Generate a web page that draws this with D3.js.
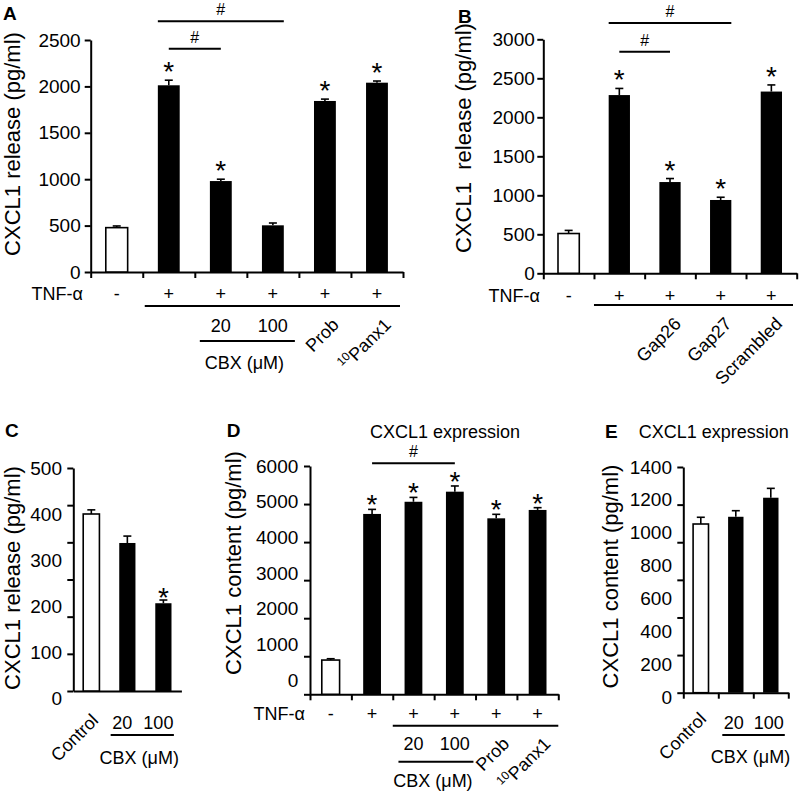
<!DOCTYPE html>
<html><head><meta charset="utf-8">
<script src="https://cdn.jsdelivr.net/npm/d3@7"></script>
<style>
body{margin:0;background:#fff;}
svg text{font-family:"Liberation Sans", Arial, Helvetica, sans-serif; fill:#000;}
</style></head><body>
<svg id="fig" width="800" height="792"></svg>
<script>
// ---------- Panel A : CXCL1 release ----------
const aCategories = ["Control","TNF-α","TNF-α+CBX 20","TNF-α+CBX 100","TNF-α+Prob","TNF-α+10Panx1"];
const aValues = [478, 2012, 980, 503, 1843, 2040];
const aErrors = [18, 55, 20, 25, 20, 18];
const aStars  = [0, 1, 1, 0, 1, 1];
const aTicks  = [0, 500, 1000, 1500, 2000, 2500];
const aTNF    = ["-", "+", "+", "+", "+", "+"];
const aDose   = ["", "", "20", "100", "", ""];
const aRotated = ["", "", "", "", "Prob", "10Panx1"];
const aRotSup  = [0, 0, 0, 0, 0, 2];
const aSig = [[1, 3, "edge"], [1, 2, "center"]];

// ---------- Panel B : CXCL1 release, peptides ----------
const bCategories = ["Control","TNF-α","TNF-α+Gap26","TNF-α+Gap27","TNF-α+Scrambled"];
const bValues = [510, 2285, 1170, 940, 2330];
const bErrors = [40, 85, 45, 35, 85];
const bStars  = [0, 1, 1, 1, 1];
const bTicks  = [0, 500, 1000, 1500, 2000, 2500, 3000];
const bTNF    = ["-", "+", "+", "+", "+"];
const bRotated = ["", "", "Gap26", "Gap27", "Scrambled"];
const bRotSup  = [0, 0, 0, 0, 0];
const bSig = [[1, 3, "edge"], [1, 2, "center"]];

// ---------- Panel C : CXCL1 release, CBX alone ----------
const cCategories = ["Control","CBX 20","CBX 100"];
const cValues = [400, 337, 206];
const cErrors = [9, 15, 7];
const cStars  = [0, 0, 1];
const cTicks  = [0, 100, 200, 300, 400, 500];
const cDose   = ["", "20", "100"];
const cRotated = ["Control", "", ""];
const cRotSup  = [0, 0, 0];

// ---------- Panel D : CXCL1 expression ----------
const dCategories = ["Control","TNF-α","TNF-α+CBX 20","TNF-α+CBX 100","TNF-α+Prob","TNF-α+10Panx1"];
const dValues = [900, 4740, 5060, 5325, 4625, 4845];
const dErrors = [35, 120, 115, 150, 105, 60];
const dStars  = [0, 1, 1, 1, 1, 1];
const dTicks  = [0, 1000, 2000, 3000, 4000, 5000, 6000];
const dTNF    = ["-", "+", "+", "+", "+", "+"];
const dDose   = ["", "", "20", "100", "", ""];
const dRotated = ["", "", "", "", "Prob", "10Panx1"];
const dRotSup  = [0, 0, 0, 0, 0, 2];
const dSig = [[1, 3, "center"]];

// ---------- Panel E : CXCL1 expression, CBX alone ----------
const eCategories = ["Control","CBX 20","CBX 100"];
const eValues = [1053, 1097, 1213];
const eErrors = [41, 37, 57];
const eStars  = [0, 0, 0];
const eTicks  = [0, 200, 400, 600, 800, 1000, 1200, 1400];
const eDose   = ["", "20", "100"];
const eRotated = ["Control", "", ""];
const eRotSup  = [0, 0, 0];

const svg = d3.select("#fig");

function panel(p) {
  const n = p.categories.length;
  const g = svg.append("g");
  const x = d3.scaleBand().domain(d3.range(n)).range([p.x0, p.x1]);
  const cx = i => x(i) + x.bandwidth() / 2;
  const bw = x.bandwidth() * p.barFrac;
  const y = d3.scaleLinear().domain([0, p.yMax]).range([p.yZero, p.yTop]);

  // y tick marks and axis line
  let tickAxis;
  if (p.tickCount) {
    const ts = d3.scaleLinear().domain([0, p.tickCount]).range([p.base, p.tickTop]);
    tickAxis = d3.axisLeft(ts).tickValues(d3.range(p.tickCount + 1));
  } else {
    tickAxis = d3.axisLeft(y).tickValues(p.ticks);
  }
  tickAxis.tickFormat("").tickSizeInner(6).tickSizeOuter(0);
  g.append("g").attr("transform", `translate(${p.x0},0)`).call(tickAxis)
    .call(s => s.selectAll("path,line").attr("stroke", "#000").attr("stroke-width", 2));

  // y tick labels
  const ls = p.labelRange ? d3.scaleLinear().domain([0, d3.max(p.ticks)]).range(p.labelRange) : y;
  g.append("g").attr("transform", `translate(${p.x0},0)`)
    .call(d3.axisLeft(ls).tickValues(p.ticks).tickFormat(d3.format("d")).tickSize(0).tickPadding(p.labelPad))
    .call(s => { s.select(".domain").remove(); s.attr("font-size", 19); s.selectAll("text").attr("fill", "#000"); });

  // x axis
  const bs = d3.scaleLinear().domain([0, n]).range([p.x0, p.x1]);
  g.append("g").attr("transform", `translate(0,${p.base})`)
    .call(d3.axisBottom(bs).tickValues(p.xTicks ? d3.range(n + 1) : []).tickFormat("").tickSizeInner(6).tickSizeOuter(0))
    .call(s => s.selectAll("path,line").attr("stroke", "#000").attr("stroke-width", 2));

  // bars
  g.selectAll("rect.bar").data(p.values).join("rect").attr("class", "bar")
    .attr("x", (d, i) => cx(i) - bw / 2)
    .attr("y", d => y(d))
    .attr("width", bw)
    .attr("height", d => p.base - y(d))
    .attr("fill", (d, i) => i === 0 ? "#fff" : "#000")
    .attr("stroke", "#000")
    .attr("stroke-width", (d, i) => i === 0 ? 1.6 : 0);

  // error bars (upper)
  p.values.forEach((v, i) => {
    const top = y(v + p.errors[i]);
    g.append("line").attr("x1", cx(i)).attr("x2", cx(i)).attr("y1", y(v)).attr("y2", top)
      .attr("stroke", "#000").attr("stroke-width", 1.6);
    g.append("line").attr("x1", cx(i) - 4).attr("x2", cx(i) + 4).attr("y1", top).attr("y2", top)
      .attr("stroke", "#000").attr("stroke-width", 1.6);
    if (p.stars[i]) {
      g.append("text").attr("x", cx(i)).attr("y", top - p.starGap + 16)
        .attr("text-anchor", "middle").attr("font-size", 28).text("*");
    }
  });

  // significance brackets
  (p.sig || []).forEach((s, k) => {
    const [i, j, kind] = s;
    const xa = kind === "edge" ? cx(i) - bw / 2 : cx(i);
    const xb = kind === "edge" ? cx(j) + bw / 2 : cx(j);
    const ly = p.sigY[k];
    g.append("line").attr("x1", xa).attr("x2", xb).attr("y1", ly).attr("y2", ly)
      .attr("stroke", "#000").attr("stroke-width", 2);
    g.append("text").attr("x", (xa + xb) / 2).attr("y", ly - 6)
      .attr("text-anchor", "middle").attr("font-size", 16).text("#");
  });

  // TNF row
  if (p.tnf) {
    g.append("text").attr("x", p.tnfX).attr("y", p.rowY).attr("text-anchor", "end")
      .attr("font-size", 18).text("TNF-α");
    p.tnf.forEach((t, i) => {
      g.append("text").attr("x", cx(i)).attr("y", p.rowY).attr("text-anchor", "middle")
        .attr("font-size", 18).text(t);
    });
    g.append("line").attr("x1", x(p.tnfFrom) + p.tnfInset).attr("x2", p.tnfEnd)
      .attr("y1", p.tnfLineY).attr("y2", p.tnfLineY).attr("stroke", "#000").attr("stroke-width", 2);
  }

  // CBX doses
  if (p.dose) {
    const idx = [];
    p.dose.forEach((t, i) => {
      if (!t) return;
      idx.push(i);
      g.append("text").attr("x", cx(i) + p.doseDx).attr("y", p.doseY).attr("text-anchor", "middle")
        .attr("font-size", 18).text(t);
    });
    const la = cx(idx[0]) - p.cbxL, lb = cx(idx[idx.length - 1]) + p.cbxR;
    g.append("line").attr("x1", la).attr("x2", lb).attr("y1", p.cbxLineY).attr("y2", p.cbxLineY)
      .attr("stroke", "#000").attr("stroke-width", 2);
    g.append("text").attr("x", (la + lb) / 2 - 3).attr("y", p.cbxY).attr("text-anchor", "middle")
      .attr("font-size", 18).text("CBX (μM)");
  }

  // rotated labels
  p.rotated.forEach((t, i) => {
    if (!t) return;
    const tx = g.append("text").attr("text-anchor", "end").attr("font-size", 18)
      .attr("transform", `translate(${cx(i) + p.rotDx},${p.rotY}) rotate(${p.rotAngle})`);
    const k = p.rotSup[i];
    if (k) {
      tx.append("tspan").attr("font-size", 12).attr("dy", -7).text(t.slice(0, k));
      tx.append("tspan").attr("dy", 7).text(t.slice(k));
    } else {
      tx.text(t);
    }
  });

  // panel letter
  g.append("text").attr("x", p.letterX).attr("y", p.letterY).attr("font-size", 19)
    .attr("font-weight", "bold").text(p.letter);

  // title
  if (p.title) {
    g.append("text").attr("x", p.titleX).attr("y", p.titleY).attr("text-anchor", "middle")
      .attr("font-size", 18).text(p.title);
  }

  // y label
  g.append("text").attr("transform", `translate(${p.ylabX},${p.ylabY}) rotate(-90)`)
    .attr("text-anchor", "middle").attr("font-size", 22).style("white-space", "pre")
    .text(p.ylabel);
}

panel({
  categories: aCategories, values: aValues, errors: aErrors, stars: aStars, ticks: aTicks,
  x0: 90.7, x1: 403, barFrac: 0.42, yMax: 2500, yZero: 272, yTop: 40, base: 272,
  labelPad: 10, xTicks: true, starGap: 15,
  sig: aSig, sigY: [21.3, 48.7],
  tnf: aTNF, tnfX: 83, rowY: 299.5, tnfFrom: 1, tnfInset: 2, tnfEnd: 400, tnfLineY: 306,
  dose: aDose, doseDx: 0, doseY: 331.5, cbxL: 21, cbxR: 22, cbxLineY: 341, cbxY: 369,
  rotated: aRotated, rotSup: aRotSup, rotDx: 15, rotY: 326, rotAngle: -45,
  letter: "A", letterX: 3, letterY: 20,
  ylabel: "CXCL1 release (pg/ml)", ylabX: 20, ylabY: 144
});

panel({
  categories: bCategories, values: bValues, errors: bErrors, stars: bStars, ticks: bTicks,
  x0: 543.3, x1: 796.7, barFrac: 0.42, yMax: 3000, yZero: 273.3, yTop: 39.3, base: 273.3,
  labelPad: 8.5, xTicks: true, starGap: 15,
  sig: bSig, sigY: [23, 51.7],
  tnf: bTNF, tnfX: 540, rowY: 301.5, tnfFrom: 1, tnfInset: 0, tnfEnd: 793, tnfLineY: 305,
  rotated: bRotated, rotSup: bRotSup, rotDx: 12, rotY: 325, rotAngle: -45,
  letter: "B", letterX: 458, letterY: 23,
  ylabel: "CXCL1  release (pg/ml)", ylabX: 471, ylabY: 138
});

panel({
  categories: cCategories, values: cValues, errors: cErrors, stars: cStars, ticks: cTicks,
  x0: 73.3, x1: 181.4, barFrac: 0.45, yMax: 500, yZero: 698, yTop: 468, base: 691,
  tickCount: 6, tickTop: 468, labelPad: 11.3, xTicks: false, starGap: 9,
  dose: cDose, doseDx: -5, doseY: 728.5, cbxL: 16.7, cbxR: 10.5, cbxLineY: 735, cbxY: 763.5,
  rotated: cRotated, rotSup: cRotSup, rotDx: 8, rotY: 721.5, rotAngle: -45,
  letter: "C", letterX: 5, letterY: 437,
  ylabel: "CXCL1 release (pg/ml)", ylabX: 20, ylabY: 578
});

panel({
  categories: dCategories, values: dValues, errors: dErrors, stars: dStars, ticks: dTicks,
  x0: 310, x1: 558.3, barFrac: 0.43, yMax: 6000, yZero: 694.3, yTop: 466, base: 694.3,
  labelRange: [680, 466], labelPad: 11.7, xTicks: true, starGap: 11,
  sig: dSig, sigY: [463.3],
  tnf: dTNF, tnfX: 305, rowY: 719.5, tnfFrom: 2, tnfInset: 0, tnfEnd: 558.3, tnfLineY: 725.7,
  dose: dDose, doseDx: 0, doseY: 750, cbxL: 15, cbxR: 18.6, cbxLineY: 761.7, cbxY: 787,
  rotated: dRotated, rotSup: dRotSup, rotDx: 14, rotY: 745, rotAngle: -45,
  letter: "D", letterX: 226.7, letterY: 437,
  title: "CXCL1 expression", titleX: 445, titleY: 438,
  ylabel: "CXCL1 content (pg/ml)", ylabX: 240.5, ylabY: 563
});

panel({
  categories: eCategories, values: eValues, errors: eErrors, stars: eStars, ticks: eTicks,
  x0: 683.3, x1: 788.3, barFrac: 0.44, yMax: 1400, yZero: 697, yTop: 467, base: 692.7,
  tickCount: 6, tickTop: 467, labelPad: 11.3, xTicks: true, starGap: 11,
  dose: eDose, doseDx: -2, doseY: 728.5, cbxL: 13.5, cbxR: 14, cbxLineY: 735, cbxY: 763,
  rotated: eRotated, rotSup: eRotSup, rotDx: 6.5, rotY: 720, rotAngle: -45,
  letter: "E", letterX: 605, letterY: 438,
  title: "CXCL1 expression", titleX: 713.7, titleY: 438,
  ylabel: "CXCL1 content (pg/ml)", ylabX: 618, ylabY: 576.5
});
</script>
</body></html>
